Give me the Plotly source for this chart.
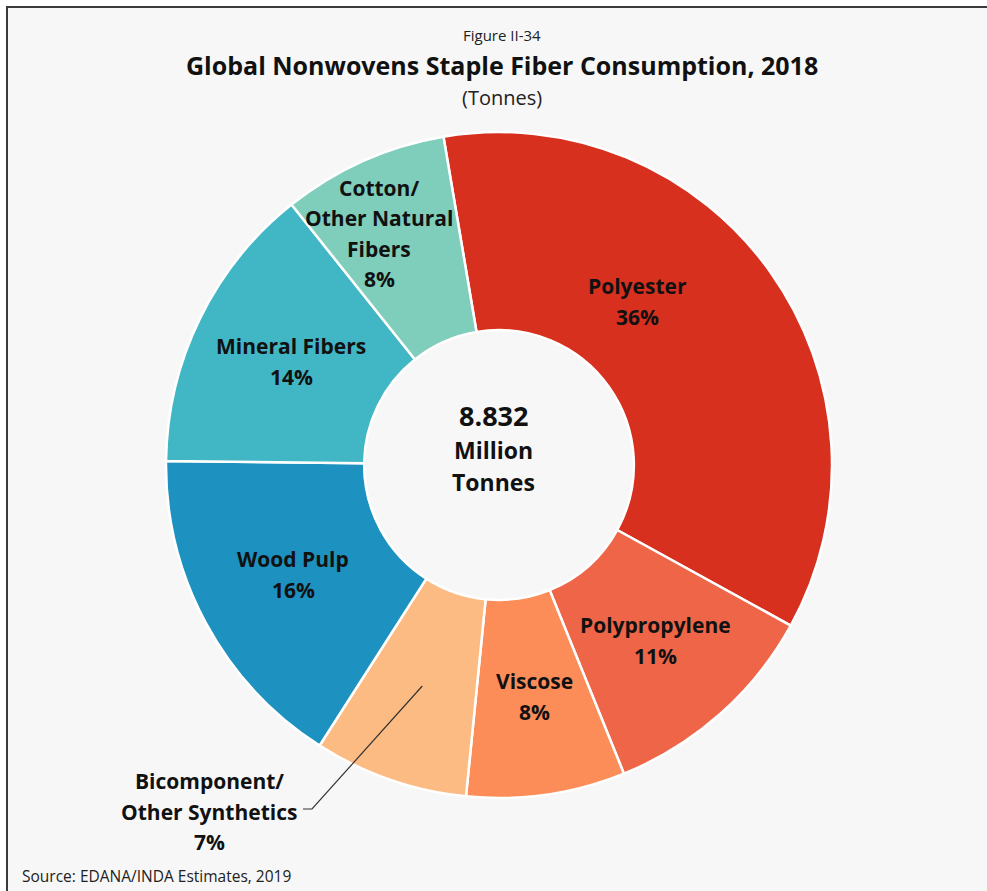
import math
import plotly.graph_objects as go

W, H = 987, 891

# ---- data ----
categories = ["Polyester", "Polypropylene", "Viscose", "Bicomponent/|Other Synthetics",
              "Wood Pulp", "Mineral Fibers", "Cotton/|Other Natural|Fibers"]
tonnes_million = [3.15, 0.96, 0.68, 0.66, 1.425, 1.245, 0.71]
colors = ["#d7301f", "#ef6548", "#fc8d59", "#fdbb84", "#1d91c0", "#41b6c4", "#7fcdbb"]
total_label = "8.832"
center_lines = ["Million", "Tonnes"]

# ---- layout geometry (pixels) ----
CX, CY, R = 499, 465, 333
HOLE = 0.405
ROT = -9.6
BG = "#f7f7f7"
FONT = "Open Sans"
TXT = "#111111"

def px(x):
    return x / W

def py(y):
    return 1 - y / H

fig = go.Figure()
fig.add_trace(go.Pie(
    labels=[c.replace("|", " ") for c in categories],
    values=tonnes_million,
    hole=HOLE,
    sort=False,
    direction="clockwise",
    rotation=ROT,
    marker=dict(colors=colors, line=dict(color="white", width=2.5)),
    textinfo="none",
    hoverinfo="label+percent",
    showlegend=False,
    domain=dict(x=[px(CX - R), px(CX + R)], y=[py(CY + R), py(CY - R)]),
))

total = sum(tonnes_million)
pcts = [round(v / total * 100) for v in tonnes_million]

# centre of first text line of each label block
label_pos = [(637, 286), (655, 625), (534, 681), (209, 781), (293, 559), (291, 346), (379, 188)]

annotations = []

def add_line(x, y, text, size, bold=True, anchor="center", color=TXT):
    annotations.append(dict(
        x=px(x), y=py(y), xref="paper", yref="paper",
        text=f"<b>{text}</b>" if bold else text, showarrow=False,
        font=dict(family=FONT, size=size, color=color),
        xanchor=anchor, yanchor="middle", align="center",
    ))

for i, (cat, p) in enumerate(zip(categories, pcts)):
    x, y = label_pos[i]
    lines = cat.split("|") + [f"{p}%"]
    for j, ln in enumerate(lines):
        add_line(x, y + j * 30.5, ln, 21)

# centre text
add_line(493, 415, total_label, 27)
for j, ln in enumerate(center_lines):
    add_line(493, 450 + j * 32, ln, 23)

# titles
add_line(502, 35, "Figure II-34", 15, bold=False, color="#222")
add_line(502, 65, "Global Nonwovens Staple Fiber Consumption, 2018", 25)
add_line(502, 97, "(Tonnes)", 20, bold=False, color="#222")
add_line(20, 876, "Source: EDANA/INDA Estimates, 2019", 15.5, bold=False, anchor="left", color="#222")

# leader line for the Bicomponent slice: start at slice mid-angle, mid-ring radius
cum = sum(tonnes_million[:3])
mid_frac = (cum + tonnes_million[3] / 2) / total
ang = math.radians(ROT + mid_frac * 360)
rmid = R * (1 + HOLE) / 2
sx, sy = CX + rmid * math.sin(ang), CY - rmid * math.cos(ang)
ex, ey = 312, 809
path = f"M {px(sx)} {py(sy)} L {px(ex)} {py(ey)} L {px(ex - 9)} {py(ey)}"

shapes = [
    dict(type="rect", xref="paper", yref="paper", x0=px(7), x1=1.05, y0=-0.05, y1=py(7),
         line=dict(color="#3a3a3a", width=2), fillcolor=BG, layer="below"),
    dict(type="path", xref="paper", yref="paper", path=path,
         line=dict(color="#333333", width=1.2)),
]

fig.update_layout(
    width=W, height=H,
    margin=dict(l=0, r=0, t=0, b=0),
    paper_bgcolor="white",
    plot_bgcolor=BG,
    annotations=annotations,
    shapes=shapes,
    font=dict(family=FONT),
)

fig.write_html(
    "out.html",
    config={"displayModeBar": False},
    post_script="document.body.style.margin='0';document.body.style.overflow='hidden';",
)
